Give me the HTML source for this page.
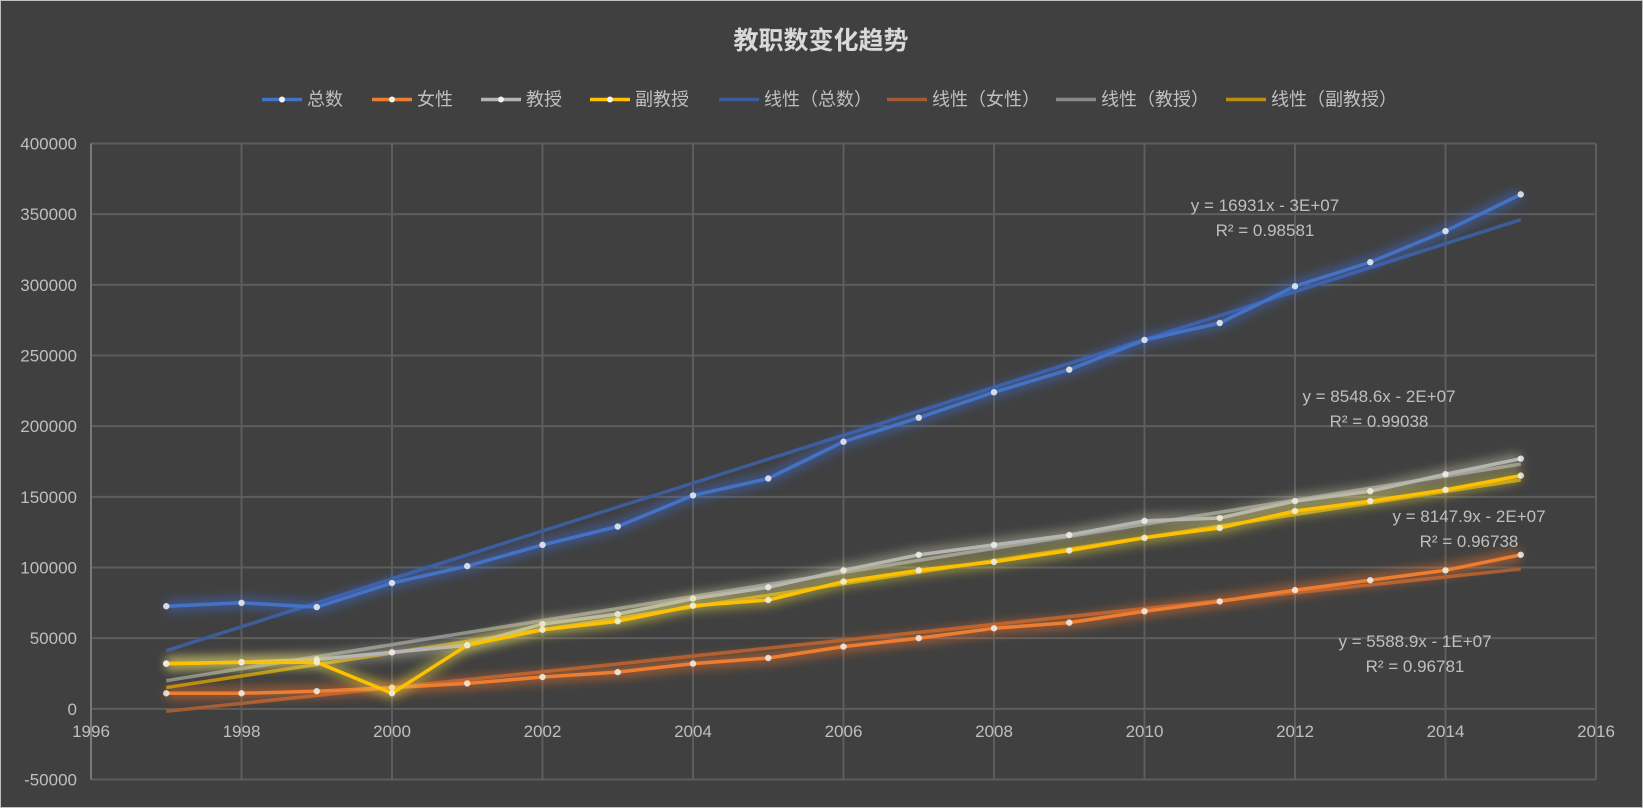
<!DOCTYPE html>
<html><head><meta charset="utf-8"><style>
html,body{margin:0;padding:0;background:#404040;}
svg{display:block;font-family:"Liberation Sans","Noto Sans CJK SC",sans-serif;}
</style></head><body>
<svg id="chart" width="1643" height="808" viewBox="0 0 1643 808" xmlns="http://www.w3.org/2000/svg">
<defs><filter id="glow" x="-10%" y="-10%" width="120%" height="120%"><feGaussianBlur stdDeviation="5"/></filter></defs>
<rect x="0" y="0" width="1643" height="808" fill="#404040" stroke="#bfbfbf" stroke-width="2"/>
<text x="821" y="49" text-anchor="middle" font-size="25" font-weight="bold" fill="#d9d9d9">教职数变化趋势</text>
<g id="grid"></g>
<g id="series"></g>
<g id="legend"></g>
</svg>
<script>
const years=[1997,1998,1999,2000,2001,2002,2003,2004,2005,2006,2007,2008,2009,2010,2011,2012,2013,2014,2015];
const totalVals=[72600,75000,72000,89000,101000,116000,129000,151000,163000,189000,206000,224000,240000,261000,273000,299000,316000,338000,364000];
const femaleVals=[11000,11000,12500,15000,18000,22500,26000,32000,36000,44000,50000,57000,61000,69000,76000,84000,91000,98000,109000];
const profVals=[32000,33000,35000,40000,45000,60000,67000,78000,86000,98000,109000,116000,123000,133000,135000,147000,154000,166000,177000];
const assocVals=[32000,33000,33000,11000,45000,56000,62000,73000,77000,90000,98000,104000,112000,121000,128000,140000,147000,155000,165000];
const xTicks=[1996,1998,2000,2002,2004,2006,2008,2010,2012,2014,2016];
const yTicks=[-50000,0,50000,100000,150000,200000,250000,300000,350000,400000];
const seriesNames=["总数","女性","教授","副教授"];
const trendNames=["线性（总数）","线性（女性）","线性（教授）","线性（副教授）"];
const eqLabels=["y = 16931x - 3E+07","y = 5588.9x - 1E+07","y = 8548.6x - 2E+07","y = 8147.9x - 2E+07"];
const r2Labels=["R² = 0.98581","R² = 0.96781","R² = 0.99038","R² = 0.96738"];

const NS="http://www.w3.org/2000/svg";
const L=91,R=1596,T=143.5,B=779.5;
const xs=v=>L+(v-1996)/(2016-1996)*(R-L);
const ys=v=>B-(v+50000)/(450000)*(B-T);
function mk(tag,attrs,parent){const e=document.createElementNS(NS,tag);for(const k in attrs)e.setAttribute(k,attrs[k]);parent.appendChild(e);return e;}
const grid=document.getElementById('grid'),ser=document.getElementById('series'),leg=document.getElementById('legend');
yTicks.forEach(v=>{
 const l=mk('line',{x1:L,x2:R,y1:ys(v),y2:ys(v),stroke:'#5d5d5d','stroke-width':2},grid);
 
 
 const t=mk('text',{x:L-14,y:ys(v)+6,'text-anchor':'end','font-size':17,fill:'#bfbfbf'},grid);t.textContent=v;
 
 
});
xTicks.forEach(v=>{
 const l=mk('line',{x1:xs(v),x2:xs(v),y1:T,y2:B,stroke:'#5d5d5d','stroke-width':2},grid);
 
 
 const t=mk('text',{x:xs(v),y:ys(0)+28,'text-anchor':'middle','font-size':17,fill:'#bfbfbf'},grid);t.textContent=v;
 
 
});
const a=mk('line',{x1:L,x2:L,y1:T,y2:B,stroke:'#7a7a7a','stroke-width':2},grid);



const data=[totalVals,femaleVals,profVals,assocVals];
const colors=['#4472c4','#ed7d31','#b4b4b4','#ffc000'];
const trendColors=['#3d5d9a','#a35c33','#8a8a8a','#b8900c'];
const glowColors=['#3f6fdc','#ff7a2a','#d0d0b0','#f0e040'];
function fit(vals){const n=years.length;let sx=0,sy=0,sxx=0,sxy=0;years.forEach((x,i)=>{sx+=x;sy+=vals[i];sxx+=x*x;sxy+=x*vals[i];});const m=(n*sxy-sx*sy)/(n*sxx-sx*sx);return [m,(sy-m*sx)/n];}
const drawOrder=[0,1,2,3];
// trendlines
drawOrder.forEach(i=>{
 const [m,b]=fit(data[i]);
 const x0=years[0],x1=years[years.length-1];
 const tl=mk('line',{x1:xs(x0),y1:ys(m*x0+b),x2:xs(x1),y2:ys(m*x1+b),stroke:trendColors[i],'stroke-width':3.5},ser);
 
 
});
// series
drawOrder.forEach(i=>{
 const d=data[i].map((v,k)=>(k?'L':'M')+xs(years[k]).toFixed(1)+','+ys(v).toFixed(1)).join(' ');
 mk('path',{d:d,stroke:glowColors[i],'stroke-width':12,fill:'none',opacity:0.45,filter:'url(#glow)'},ser);
 const p=mk('path',{d:d,stroke:colors[i],'stroke-width':3.5,fill:'none','stroke-linejoin':'round'},ser);
 
 
 data[i].forEach((v,k)=>{
  const c=mk('circle',{cx:xs(years[k]),cy:ys(v),r:3.2,fill:'#f0f0f0',opacity:0.85},ser);
  
  
 });
});
// equation labels
const eqPos=[[1265,211],[1415,647],[1379,402],[1469,522]];
[0,2,3,1].forEach(i=>{
 const [x,y]=eqPos[i];
 const t=mk('text',{x:x,y:y,'text-anchor':'middle','font-size':17,fill:'#bfbfbf'},ser);t.textContent=eqLabels[i];
 
 
 const r=mk('text',{x:x,y:y+25,'text-anchor':'middle','font-size':17,fill:'#bfbfbf'},ser);r.textContent=r2Labels[i];
 
 
});
// legend
const legX=[262,372,481,590,719,887,1056,1226];
const ly=99.5;
legX.forEach((x,j)=>{
 const g=mk('g',{},leg);
 
 
 const isTrend=j>=4, i=j%4;
 mk('line',{x1:x,x2:x+40,y1:ly,y2:ly,stroke:isTrend?trendColors[i]:colors[i],'stroke-width':3.5},g);
 if(!isTrend) mk('circle',{cx:x+20,cy:ly,r:3,fill:'#f0f0f0'},g);
 const t=mk('text',{x:x+45,y:ly+6,'font-size':18,fill:'#bfbfbf'},g);
 t.textContent=isTrend?trendNames[i]:seriesNames[i];
});
</script>
</body></html>
